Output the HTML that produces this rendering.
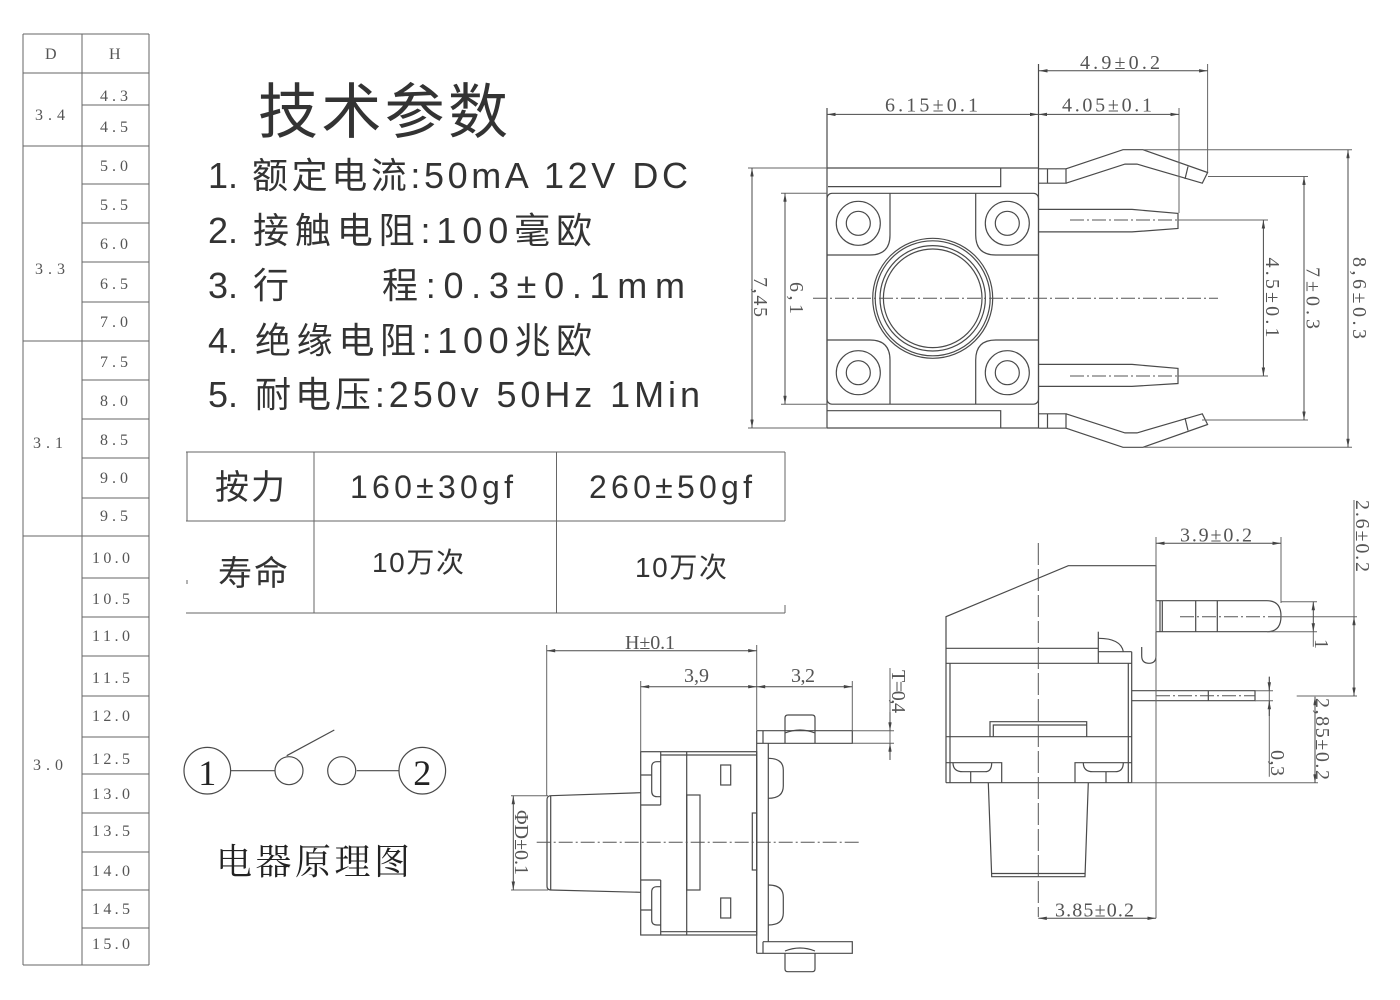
<!DOCTYPE html>
<html><head><meta charset="utf-8"><style>
html,body{margin:0;padding:0;background:#fff;width:1400px;height:1000px;overflow:hidden}
svg{display:block}
.s{fill:none;stroke:#4a4a4a;stroke-width:1.2}
.d{fill:none;stroke:#4a4a4a;stroke-width:1;marker-start:url(#a);marker-end:url(#a)}
.e{fill:none;stroke:#4a4a4a;stroke-width:1;marker-end:url(#a)}
.t{fill:none;stroke:#666;stroke-width:1}
.cl{fill:none;stroke:#555;stroke-width:1;stroke-dasharray:14 3 2 3}
.dt{font-family:"Liberation Serif",serif;font-size:20px;fill:#555}
.tb{font-family:"Liberation Serif",serif;font-size:16px;fill:#555}
.cn{font-family:"Liberation Sans","Noto Sans CJK SC",sans-serif;fill:#333}
</style></head><body>
<svg width="1400" height="1000" viewBox="0 0 1400 1000" xmlns="http://www.w3.org/2000/svg">
<defs><marker id="a" viewBox="0 0 10 4" refX="10" refY="2" markerWidth="9" markerHeight="3.4" markerUnits="userSpaceOnUse" orient="auto-start-reverse"><path d="M0 0L10 2L0 4z" fill="#444"/></marker></defs>

<!-- LEFT TABLE -->
<g class="t">
<path d="M23 34V965M82 34V965M149 34V965"/>
<path d="M23 34H149M23 73H149M23 146H149M23 341H149M23 536H149M23 965H149"/>
<path d="M82 105H149M82 184H149M82 223H149M82 262H149M82 302H149M82 380H149M82 419H149M82 458H149M82 498H149M82 578H149M82 617H149M82 656H149M82 696H149M82 737H149M82 774H149M82 813H149M82 852H149M82 890H149M82 928H149"/>
</g>
<g class="tb">
<text x="45" y="59">D</text><text x="109" y="59">H</text>
<text x="35" y="120" textLength="30">3.4</text>
<text x="35" y="274" textLength="30">3.3</text>
<text x="33" y="448" textLength="30">3.1</text>
<text x="33" y="770" textLength="30">3.0</text>
<text x="100" y="101" textLength="28">4.3</text>
<text x="100" y="132" textLength="28">4.5</text>
<text x="100" y="171" textLength="28">5.0</text>
<text x="100" y="210" textLength="28">5.5</text>
<text x="100" y="249" textLength="28">6.0</text>
<text x="100" y="289" textLength="28">6.5</text>
<text x="100" y="327" textLength="28">7.0</text>
<text x="100" y="367" textLength="28">7.5</text>
<text x="100" y="406" textLength="28">8.0</text>
<text x="100" y="445" textLength="28">8.5</text>
<text x="100" y="483" textLength="28">9.0</text>
<text x="100" y="521" textLength="28">9.5</text>
<text x="92" y="563" textLength="38">10.0</text>
<text x="92" y="604" textLength="38">10.5</text>
<text x="92" y="641" textLength="38">11.0</text>
<text x="92" y="683" textLength="38">11.5</text>
<text x="92" y="721" textLength="38">12.0</text>
<text x="92" y="764" textLength="38">12.5</text>
<text x="92" y="799" textLength="38">13.0</text>
<text x="92" y="836" textLength="38">13.5</text>
<text x="92" y="876" textLength="38">14.0</text>
<text x="92" y="914" textLength="38">14.5</text>
<text x="92" y="949" textLength="38">15.0</text>
</g>

<!-- TITLE & PARAMS -->
<text class="cn" x="258" y="133" font-size="60" textLength="250">技术参数</text>
<g class="cn" font-size="36">
<text x="208" y="188">1.</text><text x="252" y="188" textLength="436">额定电流:50mA 12V DC</text>
<text x="208" y="243">2.</text><text x="253" y="243" textLength="339">接触电阻:100毫欧</text>
<text x="208" y="298">3.</text><text x="253" y="298">行</text><text x="382" y="298" textLength="303">程:0.3±0.1mm</text>
<text x="208" y="353">4.</text><text x="255" y="353" textLength="337">绝缘电阻:100兆欧</text>
<text x="208" y="407">5.</text><text x="255" y="407" textLength="445">耐电压:250v 50Hz 1Min</text>
</g>

<!-- FORCE TABLE -->
<g class="t">
<path d="M186 452H785M186 521H785M186 613H785"/>
<path d="M187 452V521M187 580V584M314 452V613M556.5 452V613M785 452V521M785 605V613"/>
</g>
<g class="cn">
<text x="215" y="499" font-size="34" textLength="70">按力</text>
<text x="350" y="498" font-size="32" textLength="163">160±30gf</text>
<text x="589" y="498" font-size="32" textLength="163">260±50gf</text>
<text x="218" y="585" font-size="34" textLength="70">寿命</text>
<text x="372" y="572" font-size="28" textLength="92">10万次</text>
<text x="635" y="577" font-size="28" textLength="92">10万次</text>
</g>

<!-- TOP RIGHT DRAWING -->
<g class="s">
<path d="M827 108V428M1038.5 64V428"/>
<path d="M827 168H1039M828 186.6H1000.7V168"/>
<rect x="827" y="193.3" width="211.5" height="210.9" rx="5"/>
<path d="M827 410.7H1000.7V428M827 428H1039"/>
<path d="M890 193.3V235Q890 255 870 255H827"/>
<path d="M975.7 193.3V235Q975.7 255 995.7 255H1038.5"/>
<path d="M827 340H870Q890 340 890 360V404.2"/>
<path d="M1038.5 340H995.7Q975.7 340 975.7 360V404.2"/>
<circle cx="858.3" cy="223.3" r="22"/><circle cx="858.3" cy="223.3" r="12"/>
<circle cx="1007.3" cy="223.3" r="22"/><circle cx="1007.3" cy="223.3" r="12"/>
<circle cx="858.3" cy="372.7" r="22"/><circle cx="858.3" cy="372.7" r="12"/>
<circle cx="1007.3" cy="372.7" r="22"/><circle cx="1007.3" cy="372.7" r="12"/>
<circle cx="932.7" cy="298.3" r="60"/><circle cx="932.7" cy="298.3" r="57.5"/>
<circle cx="932.7" cy="298.3" r="52.7"/><circle cx="932.7" cy="298.3" r="49.3"/>
<path d="M1039 168.8H1066V183.2H1039M1047.5 168.8V183.2"/>
<path d="M1066 168.8L1123 149.7H1143L1207.6 172.5L1202.3 183.2L1137 164.1H1125L1066 183.2"/>
<path d="M1188 166.5L1185 179"/>
<path d="M1039 428.2H1066V413.8H1039M1047.5 413.8V428.2"/>
<path d="M1066 428.2L1123 447.3H1143L1207.6 424.5L1202.3 413.8L1137 432.9H1125L1066 413.8"/>
<path d="M1188 430.5L1185 418"/>
<path d="M1039 209.4H1132L1178 213.4V228.5L1132 231.9H1039"/>
<path d="M1039 364.4H1132L1178 368.4V383.5L1132 386.4H1039"/>
</g>
<path class="cl" d="M813 298.3H1218M1070 220H1178M1070 376H1178"/>
<g class="t" stroke="#4a4a4a">
<path d="M1178 220H1268M1178 376H1268"/>
<path d="M1207.6 64V172M1179 108V213"/>
<path d="M748 168H827M748 428H827M781 193.3H827M781 404.2H827"/>
<path d="M1208 176.5H1308M1202 420H1308M1143 149.7H1352M1143 447.3H1352"/>
</g>
<path class="d" d="M1039 70.8H1207.6"/>
<path class="d" d="M827 114.4H1038.5"/>
<path class="d" d="M1038.5 114.4H1179"/>
<path class="d" d="M752 168V428"/>
<path class="d" d="M785 193.3V404.2"/>
<path class="d" d="M1263.4 220V376"/>
<path class="d" d="M1304 176.5V420"/>
<path class="d" d="M1348 149.7V447.3"/>
<g class="dt">
<text x="1080" y="69" textLength="80">4.9±0.2</text>
<text x="885" y="111.5" textLength="93">6.15±0.1</text>
<text x="1062" y="111.5" textLength="90">4.05±0.1</text>
<text transform="translate(754,297) rotate(90)" x="-20" y="0" textLength="40">7,45</text>
<text transform="translate(790,298) rotate(90)" x="-16" y="0" textLength="32">6,1</text>
<text transform="translate(1266,297.5) rotate(90)" x="-40" y="0" textLength="80">4.5±0.1</text>
<text transform="translate(1306.5,298) rotate(90)" x="-31" y="0" textLength="62">7±0.3</text>
<text transform="translate(1353,298) rotate(90)" x="-41" y="0" textLength="82">8,6±0.3</text>
</g>

<!-- BOTTOM MIDDLE DRAWING -->
<g class="s">
<path d="M550.7 795.7L640.7 792.7M550.7 890L640.7 892.3"/>
<path d="M551 795.7Q547 795.7 547 800V886Q547 890 551 890M550.7 795.7V890"/>
<rect x="640.7" y="751.7" width="116" height="183.3"/>
<path d="M660.7 751.7V805M660.7 880V935M640.7 805H660.7M640.7 880H660.7M640.7 775H651.7M640.7 910H651.7"/>
<path d="M660.7 761.7H657Q651.7 761.7 651.7 767V791Q651.7 796.7 657 796.7H660.7"/>
<path d="M660.7 886.7H657Q651.7 886.7 651.7 892V920Q651.7 925 657 925H660.7"/>
<path d="M660.7 755H756.7M660.7 931.7H756.7M686.7 751.7V935"/>
<rect x="686.7" y="795" width="13.3" height="95"/>
<rect x="720.7" y="765" width="10" height="20"/>
<rect x="720.7" y="898" width="10" height="20"/>
<path d="M756.7 730.7V953.3M768.3 743.3V941.7"/>
<path d="M756.7 730.7H852.3V743.3H756.7M763 730.7V743.3"/>
<path d="M763 941.7H852.3V953.3H756.7M763 941.7V953.3"/>
<path d="M785 743.3V718Q785 715 788 715H812Q815 715 815 718V743.3M785 733Q800 727 815 733"/>
<path d="M785 953.3V969Q785 971.7 788 971.7H812Q815 971.7 815 969V953.3M785 951Q800 945 815 951"/>
<path d="M768.3 758.3Q783.3 758.3 783.3 770V786Q783.3 798.3 768.3 798.3"/>
<path d="M768.3 885Q783.3 885 783.3 897V913Q783.3 925 768.3 925"/>
<rect x="752.3" y="813" width="4.4" height="57"/>
</g>
<path class="cl" d="M536.7 842.3H861.7"/>
<g class="t" stroke="#4a4a4a">
<path d="M546.7 645V795.7M756.7 645V730.7M640.7 681V751.7M852.3 681V730.7"/>
<path d="M852.3 730.7H894M852.3 743.3H894M890 668V758"/>
<path d="M511 795.7H548M511 890H548"/>
</g>
<path class="d" d="M546.7 650.7H756.7"/>
<path class="d" d="M640.7 686.7H756.7"/>
<path class="d" d="M756.7 686.7H852.3"/>
<path class="e" d="M890 712V730.7"/>
<path class="e" d="M890 760V743.3"/>
<path class="d" d="M513.3 795.7V890"/>
<g class="dt">
<text x="625" y="649" textLength="50">H±0.1</text>
<text x="684" y="682" textLength="25">3,9</text>
<text x="791" y="682" textLength="24">3,2</text>
<text transform="translate(892,691.5) rotate(90)" x="-21.5" y="0" textLength="43">T=0,4</text>
<text transform="translate(515,842.5) rotate(90)" x="-32.5" y="0" textLength="65">ΦD±0.1</text>
</g>

<!-- BOTTOM RIGHT DRAWING -->
<g class="s">
<path d="M946 782.7V616.7L1068.3 565.7H1156V600.7"/>
<path d="M1156 600.7H1267Q1281 600.7 1281 616.2Q1281 631.7 1267 631.7H1156"/>
<path d="M1160 600.7V631.7M1162.3 600.7V631.7M1195.7 600.7V631.7M1217.3 600.7V631.7"/>
<path d="M1141.7 647V656Q1141.7 663.3 1149 663.3Q1156 663.3 1156 656V631.7"/>
<path d="M1098.3 663.3V631.7"/>
<path d="M1098.3 638.3Q1121 638.3 1123.3 651.7"/>
<path d="M1098.3 651.7H1131.7M1131.7 651.7V782.7M1128.3 663.3V782.7"/>
<path d="M946 648.3H1098.3M946 663.3H1131.7M950 663.3V782.7"/>
<path d="M1131.7 690.7H1255V700.7H1131.7M1208.3 690.7V700.7"/>
<path d="M990 736.7V721.7H1086.7V736.7M993.3 736.7V725H1086.7"/>
<path d="M946 736.7H1131.7"/>
<path d="M946 762.7H1001.7V782.7M1075 782.7V762.7H1131.7"/>
<path d="M953 762.7Q953 771.7 963 771.7H985Q991.7 771.7 991.7 762.7"/>
<path d="M1083.3 762.7Q1083.3 771.7 1093 771.7H1115Q1123.3 771.7 1123.3 762.7"/>
<path d="M970.7 771.7V782.7M1106 771.7V782.7"/>
<path d="M946 782.7H1131.7"/>
<path d="M988.3 782.7L991.7 876.7H1085L1088.3 782.7M992 873.5H1085"/>
</g>
<path class="cl" d="M1156 695.7H1255M1180 616.7H1281"/>
<path fill="none" stroke="#555" stroke-width="1" stroke-dasharray="22 4" d="M1038.3 543V917"/>
<g class="t" stroke="#4a4a4a">
<path d="M1156 537V918.3M1281 537V603"/>
<path d="M1131.7 782.7H1318"/>
<path d="M1281 601.7H1317M1267 631.7H1317M1313.3 631.7V646.7"/>
<path d="M1281 616.7H1357M1296.7 696H1357M1354 500V616.7"/>
<path d="M1255 690.7H1273M1255 700.7H1273M1269.3 676.7V776.7"/>
</g>
<path class="d" d="M1156 543.3H1281"/>
<path class="d" d="M1038.3 918.3H1156"/>
<path class="d" d="M1313.3 601.7V631.7"/>
<path class="d" d="M1354 616.7V696"/>
<path class="e" d="M1269.3 676.7V690.7"/>
<path class="e" d="M1269.3 716V700.7"/>
<path class="d" d="M1315 696.7V782.7"/>
<g class="dt">
<text x="1180" y="541.5" textLength="72">3.9±0.2</text>
<text x="1055" y="916.5" textLength="79">3.85±0.2</text>
<text transform="translate(1356,536) rotate(90)" x="-36" y="0" textLength="72">2.6±0.2</text>
<text transform="translate(1315,644) rotate(90)" x="-5" y="0">1</text>
<text transform="translate(1271,763) rotate(90)" x="-13" y="0" textLength="26">0,3</text>
<text transform="translate(1316,739) rotate(90)" x="-41" y="0" textLength="82">2,85±0.2</text>
</g>

<!-- CIRCUIT -->
<g class="s" stroke="#555">
<circle cx="207.3" cy="770.7" r="23.3"/>
<path d="M231 770.7H275"/>
<circle cx="289" cy="770.7" r="14"/>
<path d="M286.7 755.7L334.3 730"/>
<circle cx="341.7" cy="770.7" r="14"/>
<path d="M356.7 770.7H399"/>
<circle cx="422.3" cy="770.7" r="23.3"/>
</g>
<g font-family="'Liberation Serif',serif" font-size="36" fill="#222" text-anchor="middle">
<text x="207.3" y="785">1</text>
<text x="422.3" y="785">2</text>
</g>
<text x="216" y="874" font-family="'Liberation Serif','Noto Serif CJK SC',serif" font-size="36" fill="#222" textLength="194">电器原理图</text>
</svg>
</body></html>
